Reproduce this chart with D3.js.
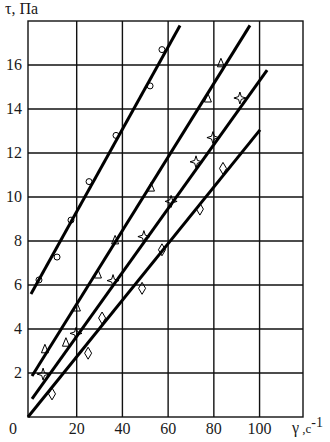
<!DOCTYPE html>
<html>
<head>
<meta charset="utf-8">
<script src="https://cdn.jsdelivr.net/npm/d3@7"></script>
<style>
  body { margin: 0; background: #fff; }
</style>
</head>
<body>
<svg id="chart"></svg>
<script>
// axis ticks
const xTicks = [20, 40, 60, 80, 100]
const yTicks = [2, 4, 6, 8, 10, 12, 14, 16]

// measured points (gamma, s^-1 / tau, Pa)
const circlesGamma = [3.5, 11.4, 17.5, 25.4, 37.2, 52.1, 57.3]
const circlesTau = [6.23, 7.27, 8.95, 10.7, 12.8, 15.05, 16.7]
const trianglesGamma = [6.1, 15.3, 20.1, 29.3, 36.8, 52.5, 77.4, 83.1]
const trianglesTau = [3.1, 3.4, 5.0, 6.5, 8.05, 10.45, 14.5, 16.1]
const starsGamma = [5.3, 19.7, 35.9, 49.4, 61.3, 72.2, 79.6, 91.4]
const starsTau = [1.95, 3.8, 6.2, 8.2, 9.8, 11.6, 12.7, 14.5]
const diamondsGamma = [9.2, 25.0, 31.1, 48.6, 57.3, 73.9, 84.0]
const diamondsTau = [1.05, 2.9, 4.5, 5.85, 7.6, 9.45, 11.3]

// fitted straight lines, one per series (start / end)
const fitStartGamma = [0, 0.45, 0.45, -1.3]
const fitStartTau = [5.59, 1.86, 0.82, 0]
const fitEndGamma = [65.2, 95.8, 103.3, 100.2]
const fitEndTau = [17.8, 17.8, 15.77, 13.05]

const width = 330, height = 442
const margin = { top: 21, right: 27, bottom: 25, left: 28 }

const svg = d3.select('#chart')
  .attr('width', width)
  .attr('height', height)

const x = d3.scaleLinear()
  .domain([-1.3, 119])
  .range([margin.left, width - margin.right])

const y = d3.scaleLinear()
  .domain([0, 18])
  .range([height - margin.bottom, margin.top])

// grid
const grid = svg.append('g')
  .attr('stroke', '#111')
  .attr('stroke-width', 1.4)

grid.selectAll('line.vx')
  .data(xTicks)
  .enter()
  .append('line')
  .attr('x1', d => x(d))
  .attr('x2', d => x(d))
  .attr('y1', y(0))
  .attr('y2', y(18))

grid.selectAll('line.hy')
  .data(yTicks)
  .enter()
  .append('line')
  .attr('x1', x(-1.3))
  .attr('x2', x(119))
  .attr('y1', d => y(d))
  .attr('y2', d => y(d))

grid.append('rect')
  .attr('x', x(-1.3))
  .attr('y', y(18))
  .attr('width', x(119) - x(-1.3))
  .attr('height', y(0) - y(18))
  .attr('fill', 'none')

// tick labels
const labels = svg.append('g')
  .attr('fill', '#1a1a1a')
  .attr('font-family', "'Liberation Serif'")
  .attr('font-size', 16)

labels.selectAll('text.x')
  .data(xTicks)
  .enter()
  .append('text')
  .attr('x', d => x(d))
  .attr('y', 434)
  .attr('text-anchor', 'middle')
  .text(d => d)

labels.selectAll('text.y')
  .data(yTicks)
  .enter()
  .append('text')
  .attr('x', 22)
  .attr('y', d => y(d) + 5)
  .attr('text-anchor', 'end')
  .text(d => d)

labels.append('text')
  .attr('x', 13)
  .attr('y', 434)
  .attr('text-anchor', 'middle')
  .text('0')

// axis titles
labels.append('text')
  .attr('x', 5)
  .attr('y', 14)
  .text('τ, Па')

const xTitle = labels.append('text')
  .attr('x', 292)
  .attr('y', 433)
xTitle.append('tspan').text('γ')
xTitle.append('tspan').attr('font-size', 13).text(' ,c')
xTitle.append('tspan').attr('dy', -6).attr('font-size', 14).text('-1')

// fitted lines
svg.append('g').selectAll('line')
  .data(d3.range(fitStartGamma.length))
  .enter()
  .append('line')
  .attr('x1', i => x(fitStartGamma[i]))
  .attr('y1', i => y(fitStartTau[i]))
  .attr('x2', i => x(fitEndGamma[i]))
  .attr('y2', i => y(fitEndTau[i]))
  .attr('stroke', '#000')
  .attr('stroke-width', 3)

// marker shapes
const triangle = {
  draw(ctx) {
    ctx.moveTo(0, -4.5)
    ctx.lineTo(3.5, 4)
    ctx.lineTo(-3.5, 4)
    ctx.closePath()
  }
}
const star4 = {
  draw(ctx) {
    const r = 6, k = 1.4
    ctx.moveTo(0, -r)
    ctx.lineTo(k, -k)
    ctx.lineTo(r, 0)
    ctx.lineTo(k, k)
    ctx.lineTo(0, r)
    ctx.lineTo(-k, k)
    ctx.lineTo(-r, 0)
    ctx.lineTo(-k, -k)
    ctx.closePath()
  }
}
const diamond = {
  draw(ctx) {
    ctx.moveTo(0, -6)
    ctx.lineTo(3.5, 0)
    ctx.lineTo(0, 6)
    ctx.lineTo(-3.5, 0)
    ctx.closePath()
  }
}

function drawMarkers(gammas, taus, type) {
  svg.append('g').selectAll('path')
    .data(gammas.map((g, i) => [g, taus[i]]))
    .enter()
    .append('path')
    .attr('d', d3.symbol().type(type))
    .attr('transform', d => `translate(${x(d[0])},${y(d[1])})`)
    .attr('fill', 'none')
    .attr('stroke', '#000')
    .attr('stroke-width', 1)
}

svg.append('g').selectAll('circle')
  .data(circlesGamma.map((g, i) => [g, circlesTau[i]]))
  .enter()
  .append('circle')
  .attr('cx', d => x(d[0]))
  .attr('cy', d => y(d[1]))
  .attr('r', 3)
  .attr('fill', 'none')
  .attr('stroke', '#000')
  .attr('stroke-width', 1)

drawMarkers(trianglesGamma, trianglesTau, triangle)
drawMarkers(starsGamma, starsTau, star4)
drawMarkers(diamondsGamma, diamondsTau, diamond)
</script>
</body>
</html>
